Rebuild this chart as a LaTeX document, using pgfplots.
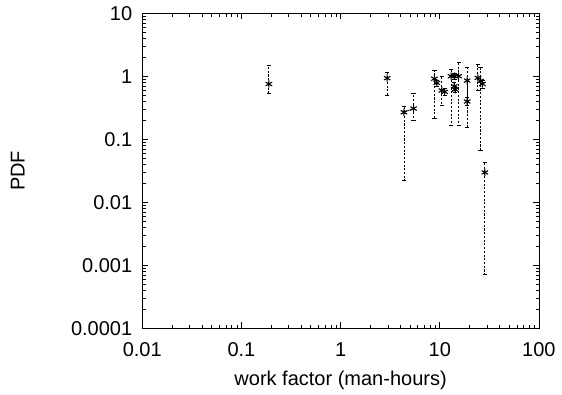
\documentclass[border=0pt]{standalone}
\usepackage{pgfplots}
\pgfplotsset{compat=1.18}
\usepackage{pgfplotstable}
\usepackage{fontspec}
\setmainfont{Liberation Sans}
\pgfplotstableread{
x y ylo yhi
0.189 0.76 0.53 1.48
2.95 0.94 0.50 1.16
4.35 0.27 0.022 0.33
5.44 0.31 0.20 0.53
8.83 0.92 0.218 1.24
9.35 0.79 0.70 0.88
10.5 0.60 0.35 1.01
11.2 0.57 0.50 0.65
13.0 1.01 0.166 1.30
14.0 0.70 0.60 0.80
14.1 1.01 0.90 1.12
14.3 0.62 0.55 0.70
15.5 1.01 0.17 1.65
18.9 0.86 0.153 1.37
18.9 0.40 0.35 0.46
24.2 0.95 0.60 1.55
25.8 0.85 0.067 1.37
26.9 0.76 0.65 0.88
28.5 0.030 0.00073 0.043
}\data
\pgfplotstableread{
x y
4.35 0.27
5.44 0.31
}\lineA
\pgfplotstableread{
x y
18.9 0.86
18.9 0.40
}\lineB
\begin{document}
\begin{tikzpicture}
\useasboundingbox (0,0) rectangle (421.5pt,296.25pt);
\begin{axis}[
  at={(106.7pt,49.9pt)}, anchor=south west,
  scale only axis, width=297.5pt, height=236.25pt,
  xmode=log, ymode=log,
  xmin=0.01, xmax=100, ymin=0.0001, ymax=10,
  xtick={0.01,0.1,1,10,100}, xticklabels={0.01,0.1,1,10,100},
  ytick={0.0001,0.001,0.01,0.1,1,10}, yticklabels={0.0001,0.001,0.01,0.1,1,10},
  tick align=inside, major tick length=4.5pt, minor tick length=2.5pt,
  every tick/.style={black, line width=0.5pt},
  axis line style={line width=0.6pt},
  font=\fontsize{15}{17}\selectfont,
  xlabel={work factor (man-hours)}, ylabel={PDF},
  xticklabel style={yshift=-7pt},
  yticklabel style={xshift=-4pt},
  xlabel style={yshift=-4pt},
  ylabel style={yshift=28pt},
]
\addplot[only marks, mark=asterisk, mark size=2.8pt, black, line width=0.8pt,
  error bars/.cd, y dir=both, y explicit,
  error bar style={black, line width=0.6pt, dash pattern=on 1.6pt off 1.2pt},
  error mark options={solid, black, line width=0.6pt, mark size=1.6pt, rotate=90}]
  table[x=x, y=y, y error plus expr=\thisrow{yhi}-\thisrow{y}, y error minus expr=\thisrow{y}-\thisrow{ylo}] {\data};
\addplot[black, line width=0.5pt, no marks] table {\lineA};
\addplot[black, line width=0.5pt, no marks] table {\lineB};
\end{axis}
\end{tikzpicture}
\end{document}
